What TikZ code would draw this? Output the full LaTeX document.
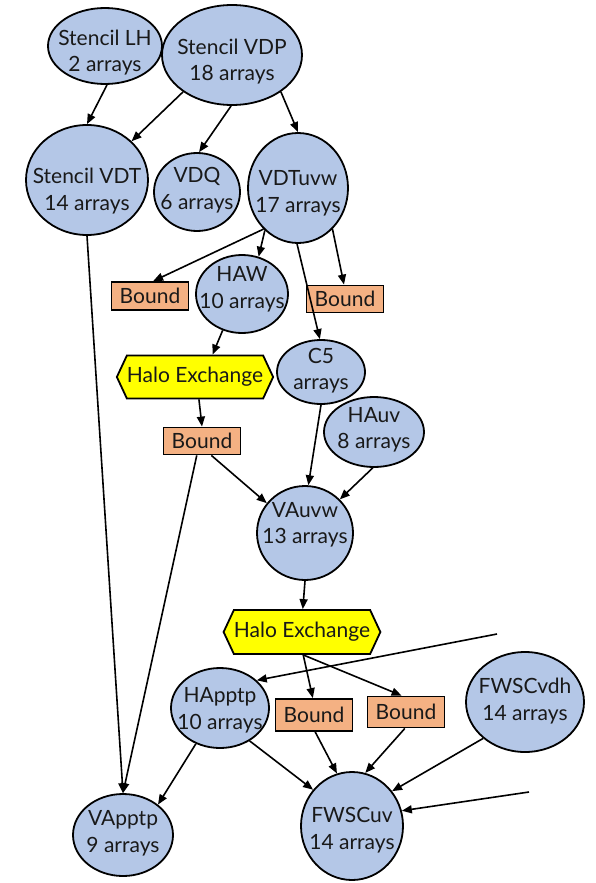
\documentclass[tikz,border=0pt]{standalone}
\usepackage{fontspec}
\setmainfont{Lato}
\usetikzlibrary{shapes.geometric,shapes.symbols,arrows.meta}
\definecolor{blobfill}{RGB}{180,199,231}
\definecolor{boundfill}{RGB}{244,177,131}
\definecolor{halofill}{RGB}{255,255,0}
\definecolor{inkcol}{RGB}{25,25,25}
\begin{document}
\begin{tikzpicture}[x=1pt,y=-1pt,
  txt/.style={font=\fontsize{21}{26.5}\selectfont, text=inkcol},
  % ellipse: width, height, downward text offset, two-line text
  blob/.style n args={4}{ellipse, draw, line width=1.8pt, fill=blobfill, inner sep=0pt,
    minimum width=#1pt, minimum height=#2pt,
    label={[txt, align=center, yshift=-#3pt]center:#4}},
  boundbox/.style={rectangle, draw, line width=1.8pt, fill=boundfill, inner sep=0pt,
    minimum width=77pt, minimum height=28pt, txt},
  halo/.style={signal, signal to=west and east, signal pointer angle=130, draw,
    line width=1.8pt, fill=halofill, inner sep=0pt, minimum width=154pt,
    minimum height=43pt, txt},
  link/.style={line width=1.6pt, -{Triangle[length=10pt,width=8pt]}}]
\useasboundingbox (0,0) rectangle (595,883);

% ellipses
\node[blob={114}{76}{6.5}{Stencil LH\\2 arrays}] (lh) at (105,46) {};
\node[blob={140}{100}{6.5}{Stencil VDP\\18 arrays}] (vdp) at (232,55) {};
\node[blob={122}{110}{11}{Stencil VDT\\14 arrays}] (vdt) at (87,180) {};
\node[blob={86}{78}{-2}{VDQ\\6 arrays}] (vdq) at (197,192) {};
\node[blob={100}{110}{5.5}{VDTuvw\\17 arrays}] (vdtuvw) at (298,188) {};
\node[blob={92}{78}{-4.5}{HAW\\10 arrays}] (haw) at (242,294) {};
\node[blob={88}{64}{-1.5}{C5\\arrays}] (c5) at (321,372) {};
\node[blob={100}{70}{-2}{HAuv\\8 arrays}] (hauv) at (374,432) {};
\node[blob={96}{94}{-8}{VAuvw\\13 arrays}] (vauvw) at (305,533) {};
\node[blob={98}{80}{2.5}{HApptp\\10 arrays}] (happtp) at (220,708) {};
\node[blob={118}{100}{-1}{FWSCvdh\\14 arrays}] (fwscvdh) at (525,702) {};
\node[blob={102}{108}{4}{FWSCuv\\14 arrays}] (fwscuv) at (352,826) {};
\node[blob={100}{82}{-1.5}{VApptp\\9 arrays}] (vapptp) at (123,835) {};

% boundary boxes
\node[boundbox] (b1) at (150,296) {Bound};
\node[boundbox, minimum height=27pt] (b2) at (345,299) {Bound};
\node[boundbox, minimum height=27pt] (b3) at (202,441) {Bound};
\node[boundbox, minimum height=32pt] (b4) at (314,715) {Bound};
\node[boundbox, minimum height=31pt] (b5) at (406,712) {Bound};

% halo exchanges
\node[halo] (h1) at (195,377) {Halo Exchange};
\node[halo, minimum height=44pt] (h2) at (302,632) {Halo Exchange};

% loose ends of incoming connectors
\coordinate (in1) at (497,634);
\coordinate (in2) at (529,792);

% connectors
\draw[link] (lh.-87) -- (vdt.90);
\draw[link] (vdp.-143) -- (vdt.41.5);
\draw[link] (vdp.-91) -- (vdq.87);
\draw[link] (vdp.-37) -- (vdtuvw.90);
\draw[link] (vdtuvw.-130) -- (b1.78);
\draw[link] (vdtuvw.-128) -- (haw.66);
\draw[link] (vdtuvw.-50) -- (b2.94);
\draw[link] (vdtuvw.-91) -- (c5.92);
\draw[link] (haw.-118) -- (h1.52);
\draw[link] (h1.-80) -- (b3.90);
\draw[link] (b3.-57) -- (vauvw.142);
\draw[link] (b3.-110) -- (vapptp.90);
\draw[link] (vdt.-90) -- (vapptp.90);
\draw[link] (c5.-90) -- (vauvw.86);
\draw[link] (hauv.-92) -- (vauvw.44);
\draw[link] (vauvw.-90) -- (h2.88);
\draw[link] (in1) -- (happtp.37);
\draw[link] (h2.-87) -- (b4.94);
\draw[link] (h2.-87) -- (b5.105);
\draw[link] (happtp.-124) -- (vapptp.41);
\draw[link] (happtp.-48) -- (fwscuv.137);
\draw[link] (b4.-86) -- (fwscuv.106);
\draw[link] (b5.-94) -- (fwscuv.76);
\draw[link] (fwscvdh.-139) -- (fwscuv.41);
\draw[link] (in2) -- (fwscuv.17);
\end{tikzpicture}
\end{document}
